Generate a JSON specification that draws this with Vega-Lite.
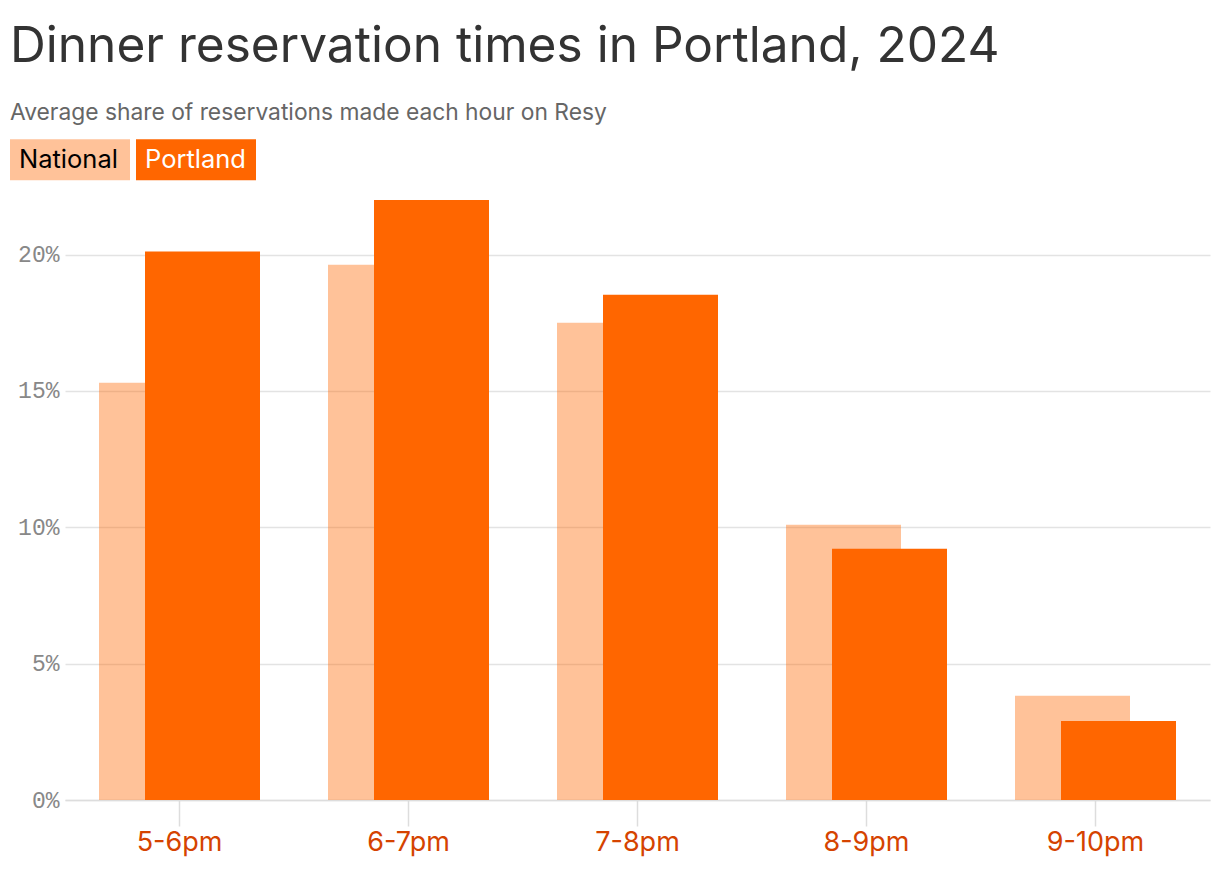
{
  "$schema": "https://vega.github.io/schema/vega-lite/v6.json",
  "width": 1145,
  "height": 600,
  "padding": {"left": 10, "top": 21, "right": 10, "bottom": 4},
  "background": "white",
  "title": {
    "text": "Dinner reservation times in Portland, 2024",
    "subtitle": "Average share of reservations made each hour on Resy",
    "anchor": "start",
    "frame": "bounds",
    "font": "Inter",
    "fontSize": 49.6,
    "fontWeight": 400,
    "color": "#333333",
    "subtitleFont": "Inter",
    "subtitleFontSize": 22.8,
    "subtitleColor": "#666666",
    "subtitlePadding": 30,
    "offset": -26.5
  },
  "data": {
    "values": [
      {"hour": "5-6pm", "series": "National", "share": 0.153},
      {"hour": "6-7pm", "series": "National", "share": 0.1963},
      {"hour": "7-8pm", "series": "National", "share": 0.175},
      {"hour": "8-9pm", "series": "National", "share": 0.1009},
      {"hour": "9-10pm", "series": "National", "share": 0.0382},
      {"hour": "5-6pm", "series": "Portland", "share": 0.2011},
      {"hour": "6-7pm", "series": "Portland", "share": 0.22},
      {"hour": "7-8pm", "series": "Portland", "share": 0.1853},
      {"hour": "8-9pm", "series": "Portland", "share": 0.0921},
      {"hour": "9-10pm", "series": "Portland", "share": 0.029}
    ]
  },
  "encoding": {
    "x": {
      "field": "hour",
      "type": "nominal",
      "sort": null,
      "title": null,
      "scale": {"paddingInner": 0, "paddingOuter": 0},
      "axis": {
        "labelAngle": 0,
        "labelFont": "Inter",
        "labelFontSize": 27,
        "labelColor": "#d54300",
        "labelPadding": 3,
        "tickSize": 26,
        "tickColor": "#dddddd",
        "tickWidth": 1.5,
        "domainColor": "#dddddd",
        "domainWidth": 1.5,
        "grid": false
      }
    },
    "y": {
      "field": "share",
      "type": "quantitative",
      "title": null,
      "scale": {"domain": [0, 0.22], "nice": false},
      "axis": {
        "format": ".0%",
        "values": [0, 0.05, 0.1, 0.15, 0.2],
        "labelFont": "Liberation Mono",
        "labelFontSize": 23,
        "labelColor": "#888888",
        "labelPadding": 6,
        "ticks": false,
        "domain": false,
        "gridColor": "#e3e3e3",
        "gridWidth": 1.5
      }
    },
    "color": {
      "field": "series",
      "type": "nominal",
      "scale": {"domain": ["National", "Portland"], "range": ["#ff6600", "#ff6600"]},
      "legend": {
        "title": null,
        "orient": "none",
        "legendX": -55,
        "legendY": -100.5,
        "direction": "horizontal",
        "padding": 0,
        "symbolType": "M-1,-0.3417H1V0.3417H-1Z",
        "symbolSize": 14400,
        "symbolStrokeWidth": 0,
        "labelOffset": -111,
        "labelFont": "Inter",
        "labelFontSize": 25.5,
        "labelColor": {"expr": "datum.label === 'Portland' ? '#ffffff' : '#000000'"},
        "columnPadding": 6
      }
    },
    "opacity": {
      "field": "series",
      "type": "nominal",
      "scale": {"domain": ["National", "Portland"], "range": [0.4, 1]},
      "legend": null
    }
  },
  "layer": [
    {
      "transform": [{"filter": "datum.series === 'National'"}],
      "mark": {"type": "bar", "size": 115, "xOffset": -23}
    },
    {
      "transform": [{"filter": "datum.series === 'Portland'"}],
      "mark": {"type": "bar", "size": 115, "xOffset": 23}
    }
  ],
  "config": {"view": {"stroke": null}}
}
